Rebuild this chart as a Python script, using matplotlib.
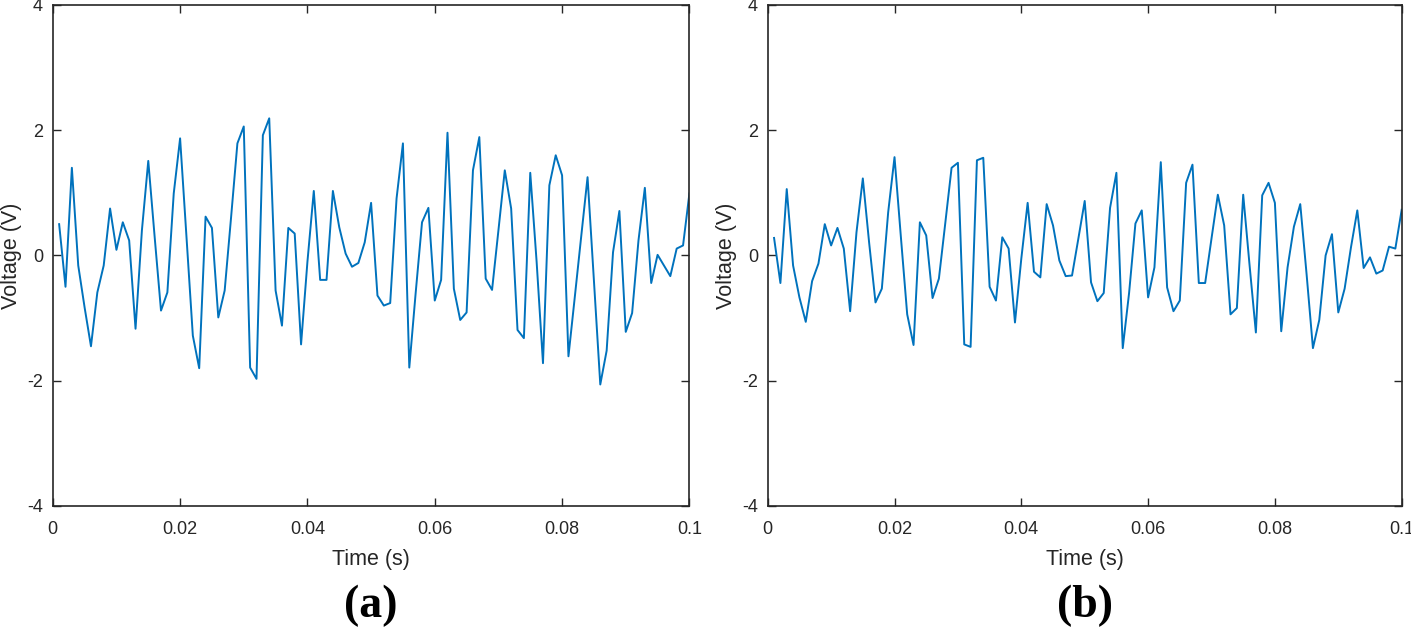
import numpy as np
import matplotlib.pyplot as plt
from matplotlib.ticker import FuncFormatter

# sampled signal, 1 ms steps
t = np.arange(1, 101) / 1000.0

volt_a = [0.50, -0.50, 1.40, -0.16, -0.83, -1.45, -0.59, -0.16, 0.75, 0.09,
          0.53, 0.24, -1.17, 0.40, 1.51, 0.30, -0.88, -0.59, 0.99, 1.87,
          0.30, -1.28, -1.80, 0.62, 0.44, -0.99, -0.56, 0.60, 1.79, 2.06,
          -1.79, -1.97, 1.92, 2.19, -0.56, -1.12, 0.44, 0.35, -1.42, -0.10,
          1.03, -0.39, -0.39, 1.03, 0.45, 0.03, -0.18, -0.12, 0.21, 0.84,
          -0.64, -0.80, -0.76, 0.91, 1.79, -1.79, -0.60, 0.53, 0.76, -0.72,
          -0.39, 1.96, -0.53, -1.03, -0.91, 1.36, 1.89, -0.37, -0.55, 0.40,
          1.36, 0.75, -1.19, -1.32, 1.32, -0.10, -1.72, 1.12, 1.60, 1.28,
          -1.61, -0.66, 0.30, 1.25, -0.40, -2.06, -1.52, 0.05, 0.71, -1.22,
          -0.92, 0.24, 1.08, -0.44, 0.01, -0.16, -0.33, 0.11, 0.16, 0.99]

volt_b = [0.28, -0.44, 1.06, -0.16, -0.67, -1.06, -0.41, -0.13, 0.50, 0.16,
          0.44, 0.11, -0.89, 0.37, 1.23, 0.20, -0.75, -0.53, 0.69, 1.57,
          0.30, -0.94, -1.43, 0.53, 0.32, -0.68, -0.37, 0.51, 1.40, 1.48,
          -1.42, -1.46, 1.52, 1.56, -0.50, -0.72, 0.29, 0.11, -1.07, -0.05,
          0.84, -0.26, -0.35, 0.82, 0.48, -0.08, -0.33, -0.32, 0.27, 0.87,
          -0.43, -0.73, -0.60, 0.76, 1.32, -1.48, -0.60, 0.51, 0.72, -0.67,
          -0.19, 1.49, -0.51, -0.89, -0.72, 1.16, 1.45, -0.44, -0.44, 0.27,
          0.97, 0.48, -0.94, -0.84, 0.97, -0.15, -1.23, 0.96, 1.16, 0.84,
          -1.21, -0.19, 0.46, 0.82, -0.30, -1.48, -1.03, 0.00, 0.34, -0.91,
          -0.53, 0.13, 0.72, -0.20, -0.03, -0.29, -0.24, 0.14, 0.11, 0.73]

x_ticks = [0, 0.02, 0.04, 0.06, 0.08, 0.1]
y_ticks = [-4, -2, 0, 2, 4]
panel_labels = ['(a)', '(b)']

plt.rcParams['font.family'] = ['Liberation Sans', 'DejaVu Sans']
plt.rcParams['axes.unicode_minus'] = False

fig = plt.figure(figsize=(14.11, 6.29), dpi=100)
dark = '#262626'
boxes = [[0.0374, 0.1956, 0.4512, 0.7965],
         [0.5441, 0.1956, 0.4493, 0.7965]]

for box, v, lab in zip(boxes, [volt_a, volt_b], panel_labels):
    ax = fig.add_axes(box)
    ax.plot(t, v, color='#0072BD', lw=1.4)
    ax.set_xlim(0, 0.1)
    ax.set_ylim(-4, 4)
    ax.set_xticks(x_ticks)
    ax.set_yticks(y_ticks)
    ax.xaxis.set_major_formatter(FuncFormatter(lambda val, p: '%g' % round(val, 4)))
    ax.tick_params(direction='in', top=True, right=True, length=6, width=1,
                   colors=dark, labelsize=13)
    ax.tick_params(axis='x', pad=11)
    ax.tick_params(axis='y', pad=7)
    for s in ax.spines.values():
        s.set_color(dark)
        s.set_linewidth(1.2)
    ax.set_xlabel('Time (s)', fontsize=15.5, color=dark, labelpad=7.5)
    ax.set_ylabel('Voltage (V)', fontsize=15.5, color=dark, labelpad=4)
    ax.text(0.5, -0.2, lab, transform=ax.transAxes, ha='center', va='center',
            fontsize=33, fontweight='bold', family='Liberation Serif')

fig.savefig('out.png', dpi=100)
